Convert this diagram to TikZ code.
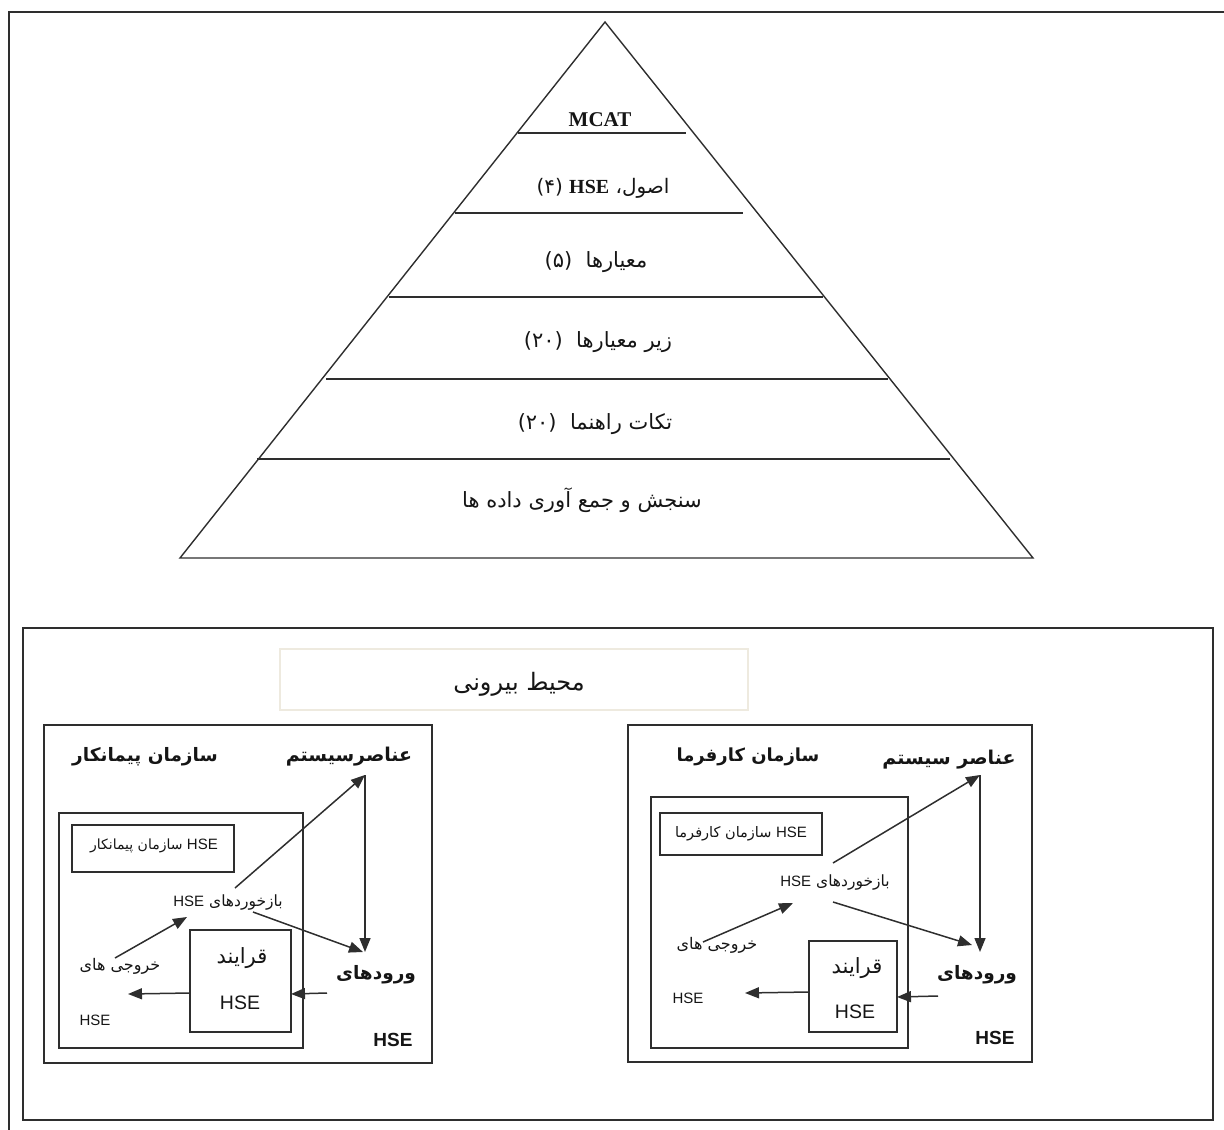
\documentclass[tikz,border=0pt]{standalone}
\usepackage{fontspec}
\setmainfont{Liberation Serif}
\newfontfamily\fa[Script=Arabic]{DejaVu Sans}
\newfontfamily\lsans{Liberation Sans}
\TeXXeTstate=1
\usetikzlibrary{arrows.meta}
\definecolor{ln}{HTML}{2E2E2E}
\definecolor{faint}{HTML}{EEEADF}
\definecolor{txt}{HTML}{151515}
\tikzset{
  frame/.style={draw=ln,line width=1.8pt},
  box/.style={draw=ln,line width=1.6pt},
  pyr/.style={draw=ln,line width=1.4pt},
  arr/.style={draw=ln,line width=1.5pt,-{Triangle[length=14pt,width=11pt]}},
  lbl/.style={inner sep=0pt,text=txt},
}
\newcommand{\fz}[1]{\fontsize{#1}{#1}\fa}
\newcommand{\hs}[1]{{\lsans\fontsize{#1}{#1}\selectfont HSE}}
\begin{document}
\begin{tikzpicture}[x=1pt,y=-1pt]
\useasboundingbox (0,0) rectangle (1224,1130);
% outer frame
\draw[frame] (9,1130) -- (9,12) -- (1224,12);
% pyramid
\coordinate (apex) at (605,22);
\coordinate (bl) at (180,558);
\coordinate (br) at (1033,558);
\draw[pyr] (bl) -- (apex) -- (br) -- cycle;
\foreach \y/\xa/\xb in {133/518/686,213/455/743,297/389/823,379/326/888,459/257/950}
  \draw[pyr] (\xa,\y) -- (\xb,\y);
\node[lbl,font=\fontsize{21}{21}\selectfont\bfseries] (mcat) at (600,120) {MCAT};
\node[lbl] (usul) at (603,188) {\fz{20}\beginR اصول، \beginL{\rmfamily\bfseries\fontsize{20}{20}\selectfont HSE}\endL{} (۴)\endR};
\node[lbl] (meyar) at (596,262) {\fz{21}\beginR معیارها \ (۵)\endR};
\node[lbl] (zir) at (598,342) {\fz{21}\beginR زیر معیارها \ (۲۰)\endR};
\node[lbl] (nokat) at (595,424) {\fz{21}\beginR تکات راهنما \ (۲۰)\endR};
\node[lbl] (sanjesh) at (582,500) {\fz{21}\beginR سنجش و جمع آوری داده ها\endR};
% lower outer box
\draw[box] (23,628) rectangle (1213,1120);
\node[draw=faint,line width=1.2pt,minimum width=468pt,minimum height=61pt,inner sep=0pt] (env) at (514,679.5) {};
\node[lbl] (envt) at (519,684) {\fz{24}\beginR محیط بیرونی\endR};
% ---------- left system
\draw[box] (44,725) rectangle (432,1063);
\draw[box] (59,813) rectangle (303,1048);
\draw[box] (72,825) rectangle (234,872);
\draw[box] (190,930) rectangle (291,1032);
\node[lbl] (Lelem) at (349,757) {\fz{19}\bfseries\beginR عناصرسیستم\endR};
\node[lbl] (Lorg) at (145,757) {\fz{18.5}\bfseries\beginR سازمان پیمانکار\endR};
\node[lbl] (Lsub) at (154,846) {\fz{14}\beginR\beginL\hs{15}\endL{} سازمان پیمانکار\endR};
\node[lbl] (Lfb) at (228,902) {\fz{15.5}\beginR بازخوردهای \beginL\hs{15}\endL\endR};
\node[lbl] (Lout) at (120,966) {\fz{16}\beginR خروجی های\endR};
\node[lbl] (Louthse) at (95,1020) {\hs{15}};
\node[lbl] (Lproc) at (242,958) {\fz{21}\beginR قرایند\endR};
\node[lbl] (Lprochse) at (240,1003) {\hs{19.5}};
\node[lbl] (Lin) at (376,975) {\fz{18.5}\bfseries\beginR ورودهای\endR};
\node[lbl,font=\lsans\bfseries\fontsize{19}{19}\selectfont] (Lhse) at (393,1040) {HSE};
\coordinate (La1) at (235,888); \coordinate (La2) at (365,775);
\coordinate (Lb1) at (115,958); \coordinate (Lb2) at (187,917);
\coordinate (Lc1) at (253,912); \coordinate (Lc2) at (363,952);
\coordinate (Ld2) at (365,952);
\coordinate (Le1) at (190,993); \coordinate (Le2) at (128,994);
\coordinate (Lf1) at (327,993); \coordinate (Lf2) at (291,994);
\draw[arr] (La1) -- (La2);
\draw[arr] (La2) -- (Ld2);
\draw[arr] (Lb1) -- (Lb2);
\draw[arr] (Lc1) -- (Lc2);
\draw[arr] (Le1) -- (Le2);
\draw[arr] (Lf1) -- (Lf2);
% ---------- right system
\draw[box] (628,725) rectangle (1032,1062);
\draw[box] (651,797) rectangle (908,1048);
\draw[box] (660,813) rectangle (822,855);
\draw[box] (809,941) rectangle (897,1032);
\node[lbl] (Relem) at (949,760) {\fz{19}\bfseries\beginR عناصر سیستم\endR};
\node[lbl] (Rorg) at (748,757) {\fz{18}\bfseries\beginR سازمان کارفرما\endR};
\node[lbl] (Rsub) at (741,834) {\fz{14.5}\beginR\beginL\hs{15}\endL{} سازمان کارفرما\endR};
\node[lbl] (Rfb) at (835,882) {\fz{15.5}\beginR بازخوردهای \beginL\hs{15}\endL\endR};
\node[lbl] (Rout) at (717,945) {\fz{16}\beginR خروجی های\endR};
\node[lbl] (Routhse) at (688,998) {\hs{15}};
\node[lbl] (Rproc) at (857,968) {\fz{21}\beginR قرایند\endR};
\node[lbl] (Rprochse) at (855,1012) {\hs{19.5}};
\node[lbl] (Rin) at (977,975) {\fz{18.5}\bfseries\beginR ورودهای\endR};
\node[lbl,font=\lsans\bfseries\fontsize{19}{19}\selectfont] (Rhse) at (995,1038) {HSE};
\coordinate (Ra1) at (833,863); \coordinate (Ra2) at (980,775);
\coordinate (Rb1) at (703,942); \coordinate (Rb2) at (793,903);
\coordinate (Rc1) at (833,902); \coordinate (Rc2) at (972,945);
\coordinate (Rd2) at (980,952);
\coordinate (Re1) at (809,992); \coordinate (Re2) at (745,993);
\coordinate (Rf1) at (938,996); \coordinate (Rf2) at (897,997);
\draw[arr] (Ra1) -- (Ra2);
\draw[arr] (Ra2) -- (Rd2);
\draw[arr] (Rb1) -- (Rb2);
\draw[arr] (Rc1) -- (Rc2);
\draw[arr] (Re1) -- (Re2);
\draw[arr] (Rf1) -- (Rf2);
\end{tikzpicture}
\end{document}
